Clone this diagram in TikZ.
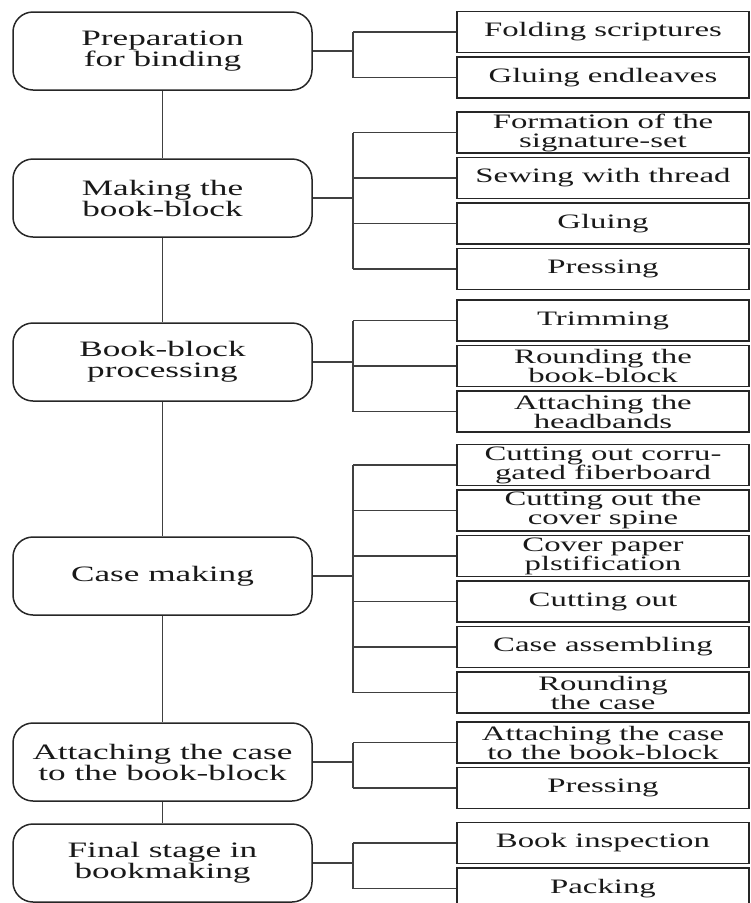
\documentclass[tikz,border=0pt]{standalone}
\usepackage{fontspec}
\setmainfont{Liberation Serif}[FakeStretch=1.6]
\usetikzlibrary{positioning}

\begin{document}
\begin{tikzpicture}[x=1pt,y=-1pt,
		stagebox/.style={draw=black!85,line width=1.5pt,rounded corners=20pt,
			minimum width=299pt,minimum height=78pt,align=center,
			font=\fontsize{22}{21}\selectfont,text=black!90},
		opbox/.style={draw=black!85,line width=1.5pt,minimum width=292pt,
			minimum height=41pt,inner sep=0pt,align=center,
			font=\fontsize{20.5}{19}\selectfont,text=black!90},
		link/.style={draw=black!75,line width=1.7pt},
		node distance=3pt]
	\useasboundingbox (0,0) rectangle (751,903);
	% stages
	\node[stagebox] (prep) at (162.5,51)  {Preparation\\for binding};
	\node[stagebox] (make) at (162.5,198) {Making the\\book-block};
	\node[stagebox] (proc) at (162.5,362) {Book-block\\processing};
	\node[stagebox] (case) at (162.5,576) {Case making};
	\node[stagebox] (att)  at (162.5,762) {Attaching the case\\to the book-block};
	\node[stagebox] (fin)  at (162.5,863) {Final stage in\\bookmaking};
	\draw[link] (prep) -- (make) -- (proc) -- (case) -- (att) -- (fin);
	% operations
	\node[opbox] (fold) at (603,32) {Folding scriptures};
	\node[opbox,below=of fold] (endl) {Gluing endleaves};
	\node[opbox] (form) at (603,132.5) {Formation of the\\signature-set};
	\node[opbox,below=of form] (sew) {Sewing with thread};
	\node[opbox,below=of sew] (glue) {Gluing};
	\node[opbox,below=of glue] (press) {Pressing};
	\node[opbox] (trim) at (603,320.5) {Trimming};
	\node[opbox,below=of trim] (round) {Rounding the\\book-block};
	\node[opbox,below=of round] (head) {Attaching the\\headbands};
	\node[opbox] (corr) at (603,465) {Cutting out corru-\\gated fiberboard};
	\node[opbox,below=of corr] (spine) {Cutting out the\\cover spine};
	\node[opbox,below=of spine] (plast) {Cover paper\\plstification};
	\node[opbox,below=of plast] (cut) {Cutting out};
	\node[opbox,below=of cut] (assem) {Case assembling};
	\node[opbox,below=of assem] (rcase) {Rounding\\the case};
	\node[opbox] (attc) at (603,742.5) {Attaching the case\\to the book-block};
	\node[opbox,below=of attc] (pressb) {Pressing};
	\node[opbox] (insp) at (603,843) {Book inspection};
	\node[opbox,below=of insp] (pack) {Packing};
	% brackets
	\coordinate (bx) at (353,0);
	\foreach \s/\first/\last in {prep/fold/endl,make/form/press,proc/trim/head,
			case/corr/rcase,att/attc/pressb,fin/insp/pack}{
		\draw[link] (\s.east) -- (bx |- \s.east);
		\draw[link] (bx |- \first) -- (bx |- \last);
	}
	\foreach \o in {fold,endl,form,sew,glue,press,trim,round,head,corr,spine,
			plast,cut,assem,rcase,attc,pressb,insp,pack}
		\draw[link] (bx |- \o) -- (\o.west);
\end{tikzpicture}
\end{document}
